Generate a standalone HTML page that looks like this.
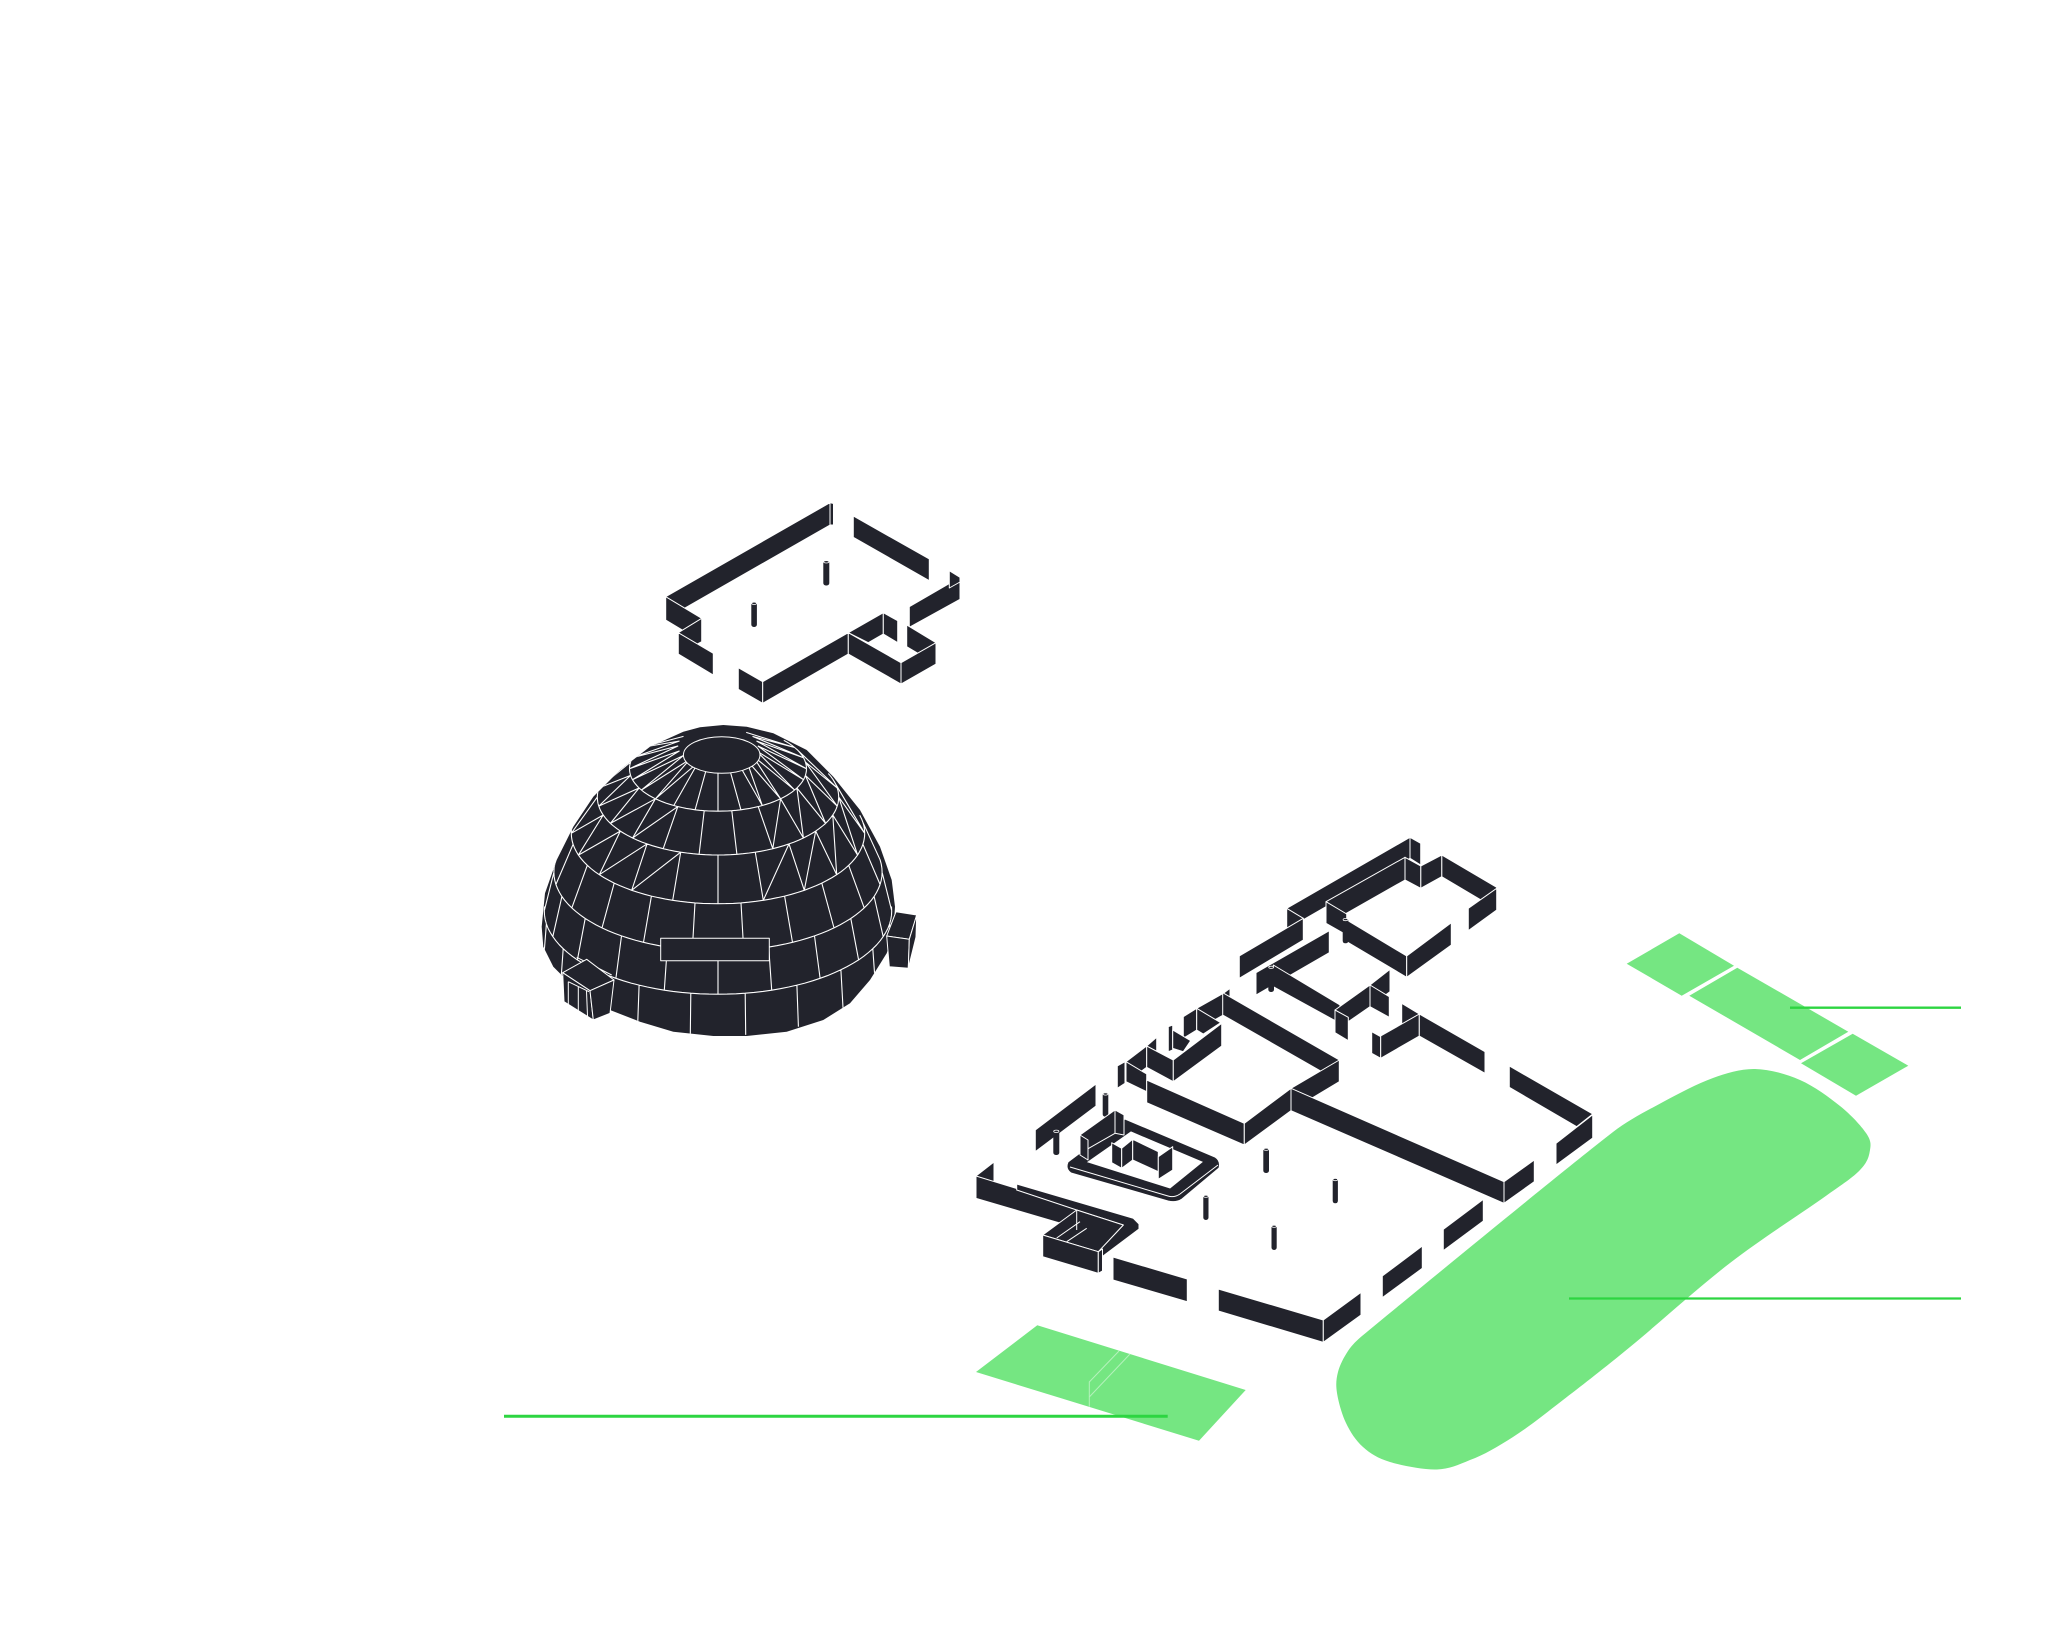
<!DOCTYPE html>
<html>
<head>
<meta charset="utf-8">
<style>
html,body{margin:0;padding:0;background:#fff;overflow:hidden;}
svg{display:block;}
.w{fill:#22232c;stroke:#fff;stroke-width:1;stroke-linejoin:round;}
.d{fill:#22232c;}
.wl{fill:none;stroke:#fff;stroke-width:1;}
.g{fill:#75e682;}
.gl{stroke:#2dd541;fill:none;}
</style>
</head>
<body>
<svg xmlns="http://www.w3.org/2000/svg" width="2048" height="1639" viewBox="0 0 2048 1639">
<rect width="2048" height="1639" fill="#fff"/>

<!-- ================= UPPER BUILDING ================= -->
<g>
<polygon class="w" points="853.3,516 929.3,559 929.3,580.7 853.3,537.3"/>
<polygon class="w" points="665.7,596.7 830,502.7 830,525 665.7,619"/>
<polygon class="w" points="830,502.7 833.5,503.5 833.5,525 830,525"/>
<polygon class="w" points="909.3,606.7 960,577.3 960,599.3 909.3,627.3"/>
<polygon class="w" points="949.3,570.7 960,577.3 960,582 949.3,588"/>
<polygon class="w" points="665.7,596.7 701.7,618.3 701.7,641.7 665.7,620"/>
<polygon class="w" points="678.3,632.7 701.7,618.3 701.7,641.7 678.3,654"/>
<polygon class="w" points="678.3,632.7 713.3,653.3 713.3,675 678.3,654"/>
<polygon class="w" points="848.3,632.7 883.3,612.7 883.3,634 868.3,642.7"/>
<polygon class="w" points="883.3,612.7 897.7,620.7 897.7,642.7 883.3,634"/>
<polygon class="w" points="906.7,625 936,642.7 936,664 906.7,646.7"/>
<polygon class="w" points="738.3,667.7 762.7,681.7 762.7,703.3 738.3,689.3"/>
<polygon class="w" points="762.7,681.7 848.3,632.7 848.3,654 762.7,703.3"/>
<polygon class="w" points="848.3,632.7 901,662.7 901,684 848.3,654"/>
<polygon class="w" points="901,662.7 936,642.7 936,664 901,684"/>
<rect class="d" x="823.3" y="560.5" width="6" height="25" rx="2.5"/>
<ellipse cx="826.3" cy="561.8" rx="2.6" ry="1.2" fill="none" stroke="#fff" stroke-width="0.8"/>
<rect class="d" x="751.3" y="602" width="5.6" height="25" rx="2.5"/>
<ellipse cx="754.1" cy="603.3" rx="2.4" ry="1.2" fill="none" stroke="#fff" stroke-width="0.8"/>
</g>

<!-- ================= DOME ================= -->
<defs>
<clipPath id="domeclip">
<polygon points="700,727.3 723.3,725 746.7,726.7 773.3,733.3 806.7,750 833.3,776.7 860,810 880,846.7 891.7,880 895,906.7 893.3,933.3 886.7,953.3 870,980 850,1003.3 823.3,1020 786.7,1031.7 746.7,1036 713.3,1036 673.3,1031.7 640,1021.7 610,1010 573.3,986.7 553.3,966.7 543.3,946.7 541.7,926.7 545,893.3 556.7,860 573.3,826.7 593.3,796.7 620,770 650,746.7 683.3,731.7"/>
</clipPath>
</defs>
<polygon class="d" points="700,727.3 723.3,725 746.7,726.7 773.3,733.3 806.7,750 833.3,776.7 860,810 880,846.7 891.7,880 895,906.7 893.3,933.3 886.7,953.3 870,980 850,1003.3 823.3,1020 786.7,1031.7 746.7,1036 713.3,1036 673.3,1031.7 640,1021.7 610,1010 573.3,986.7 553.3,966.7 543.3,946.7 541.7,926.7 545,893.3 556.7,860 573.3,826.7 593.3,796.7 620,770 650,746.7 683.3,731.7"/>
<g id="grid" clip-path="url(#domeclip)"></g>
<ellipse cx="721.7" cy="755" rx="38.3" ry="18.3" class="w"/>
<rect x="660.7" y="938.3" width="108.6" height="22.4" class="w"/>
<line x1="576.7" y1="957.3" x2="611.7" y2="975" stroke="#fff" stroke-width="1"/>
<polygon class="w" points="562.7,972.7 586.7,959.3 614,980 590,990.7"/>
<polygon class="w" points="562.7,972.7 590,990.7 593.3,1020 564,1001.7"/>
<polygon class="w" points="590,990.7 614,980 610,1013.3 593.3,1020"/>
<path class="wl" d="M568.3,981.7 L589,991.7 M568.3,981.7 L568.3,1005 M578.3,987 L578.3,1011.5 M586.5,991 L587.5,1016"/>
<polygon class="w" points="886.7,936 896,911.7 916.7,915 909.3,939.3"/>
<polygon class="w" points="886.7,936 909.3,939.3 908.3,968.3 889.3,966.7"/>
<polygon class="w" points="909.3,939.3 916.7,915 916,937 908.3,968.3"/>

<!-- ================= GREEN AREAS ================= -->
<polygon class="g" points="1679.3,933.3 1734,965.7 1681.7,995.7 1626.7,963.7"/>
<polygon class="g" points="1737.3,967.7 1848.3,1031.7 1800,1060 1689.3,995.7"/>
<polygon class="g" points="1852.7,1033.7 1908.3,1065.7 1856,1095.7 1801,1063.3"/>
<path class="g" d="M1755,1069
C1769.5,1069.3 1785.8,1073.8 1800,1080
C1814.2,1086.2 1829,1097.2 1840,1106
C1851,1114.8 1861,1125.7 1866,1133
C1871,1140.3 1871,1143.8 1870,1150
C1869,1156.2 1867.8,1162 1860,1170
C1852.2,1178 1844.7,1182.5 1823,1198
C1801.3,1213.5 1762.2,1238.2 1730,1263
C1697.8,1287.8 1657.8,1324.2 1630,1347
C1602.2,1369.8 1582.5,1385 1563,1400
C1543.5,1415 1528.5,1427.2 1513,1437
C1497.5,1446.8 1484,1455 1470,1460
C1458,1465 1449,1469 1437,1469.5
C1423.7,1470 1402.3,1465.7 1390,1462
C1377.7,1458.3 1370.3,1453.5 1363,1447
C1355.7,1440.5 1350.3,1432 1346,1423
C1341.7,1414 1338.3,1401.5 1337,1393
C1335.7,1384.5 1336.2,1379 1338,1372
C1339.8,1365 1344,1357 1348,1351
C1352,1345 1357.4,1339.8 1362,1336
C1408,1298 1565.6,1168.6 1613,1132
C1628,1120.4 1646.3,1111 1663,1102
C1678.8,1093.5 1697,1083.8 1713,1078
C1726.2,1073.2 1741,1068.7 1755,1069 Z"/>
<polygon class="g" points="1037.3,1325.3 1245.7,1390 1199,1440.7 976,1372"/>
<path d="M1119,1351 L1089.3,1382 L1089.3,1406.7 M1130,1354 L1089.3,1397" fill="none" stroke="#b4f2bb" stroke-width="1"/>

<!-- ================= LOWER BUILDING ================= -->
<g>
<polygon class="w" points="1286.7,908.3 1410,837.3 1410,858.3 1286.7,929.3"/>
<polygon class="w" points="1410,837.3 1420.7,843.3 1420.7,865 1410,858.3"/>
<polygon class="w" points="1441.7,855 1496.7,887.3 1496.7,909.3 1441.7,876.7"/>
<polygon class="w" points="1420.7,866 1441.7,855 1441.7,876.7 1420.7,888.3"/>
<polygon class="w" points="1405,857.3 1420.7,866 1420.7,888.3 1405,880"/>
<polygon class="w" points="1326,901.7 1405,857.3 1405,880 1343.3,915"/>
<polygon class="w" points="1286.7,908.3 1303.3,918.3 1303.3,940 1286.7,929.3"/>
<polygon class="w" points="1239.3,956 1303.3,918.3 1303.3,940 1239.3,978.3"/>
<polygon class="w" points="1326,901.7 1346.7,914 1346.7,935 1326,923.3"/>
<polygon class="w" points="1468.3,908.3 1496.7,888.3 1496.7,910 1468.3,930.7"/>
<polygon class="w" points="1346.7,920 1406.7,956 1406.7,977.3 1346.7,941.7"/>
<polygon class="w" points="1406.7,956 1451.3,922.7 1451.3,945 1406.7,977.3"/>
<rect class="d" x="1342.7" y="918.3" width="5.6" height="25" rx="2.5"/>
<ellipse cx="1345.5" cy="919.6" rx="2.4" ry="1.1" fill="none" stroke="#fff" stroke-width="0.8"/>
<polygon class="w" points="1256,972.7 1329.3,930.7 1329.3,952.7 1256,995"/>
<polygon class="w" points="1273.3,965 1340,1005 1340,1023.3 1273.3,986.7"/>
<rect class="d" x="1268.3" y="966" width="5.7" height="26" rx="2.5"/>
<ellipse cx="1271.2" cy="967.3" rx="2.5" ry="1.1" fill="none" stroke="#fff" stroke-width="0.8"/>
<polygon class="w" points="1335,1010 1370,985 1370,1006.7 1348.3,1021.7"/>
<polygon class="w" points="1370,985 1390,969.3 1390,991.7 1370,1006.7"/>
<polygon class="w" points="1370,985 1389.3,996.7 1389.3,1017.3 1370,1006.7"/>
<polygon class="w" points="1335,1010 1348.3,1017.3 1348.3,1040.7 1335,1032.7"/>
<polygon class="w" points="1401.7,1003.3 1419.3,1014 1419.3,1036 1401.7,1025"/>
<polygon class="w" points="1371.7,1031.7 1380.7,1036.7 1380.7,1058.3 1371.7,1053.3"/>
<polygon class="w" points="1380.7,1036 1419.3,1014 1419.3,1036 1380.7,1058.3"/>
<polygon class="w" points="1419.3,1014 1485,1051.7 1485,1073.3 1419.3,1036"/>
<polygon class="w" points="1509.3,1066 1592.7,1114 1576.7,1126.7 1509.3,1087.3"/>
<polygon class="w" points="1556,1143.3 1592.7,1114.7 1592.7,1138 1556,1165"/>

<polygon class="w" points="1223.3,993.3 1230,988.3 1230,1010 1223.3,1015"/>
<polygon class="w" points="1196.7,1008.3 1223.3,993.3 1223.3,1015 1196.7,1030"/>
<polygon class="w" points="1183.3,1016.7 1196.7,1008.3 1196.7,1030 1183.3,1038.3"/>
<polygon class="w" points="1196.7,1008.3 1220.7,1022.7 1203.3,1034 1196.7,1030"/>
<polygon class="w" points="1168.3,1026.7 1172.7,1025 1172.7,1050 1168.3,1051.7"/>
<polygon class="w" points="1172.7,1030 1190.7,1040.7 1183.3,1051.7 1172.7,1048.3"/>
<polygon class="w" points="1146.7,1046 1156.7,1037.3 1156.7,1058.3 1146.7,1067.3"/>
<polygon class="w" points="1126,1061.7 1146.7,1046 1146.7,1067.3 1126,1082.7"/>
<polygon class="w" points="1117.3,1066 1125,1061.7 1125,1083.3 1117.3,1088.3"/>
<polygon class="w" points="1126,1061.7 1146.7,1074 1146.7,1091.7 1126,1081.7"/>
<polygon class="w" points="1146.7,1046 1173.3,1060 1173.3,1081.7 1146.7,1067.3"/>
<polygon class="w" points="1173.3,1060 1221.7,1023.3 1221.7,1046 1173.3,1081.7"/>

<polygon class="w" points="1222.7,992.7 1339.3,1060 1339.3,1081.7 1222.7,1015"/>
<polygon class="w" points="1146.7,1080 1244.3,1123.3 1244.3,1145 1146.7,1102.7"/>
<polygon class="w" points="1291,1088.3 1339.3,1060 1339.3,1081.7 1291,1110.7"/>
<polygon class="w" points="1244.3,1123.3 1291,1088.3 1291,1110.7 1244.3,1145"/>
<polygon class="w" points="1291,1088.3 1504,1181.7 1504,1203.3 1291,1110.7"/>
<polygon class="w" points="1504,1181.7 1534.3,1160 1534.3,1181.7 1504,1203.3"/>

<polygon class="w" points="1035.3,1130 1096,1084 1096,1106 1035.3,1151.7"/>
<rect class="d" x="1102.7" y="1092.7" width="5.6" height="24" rx="2.5"/>
<ellipse cx="1105.5" cy="1094" rx="2.4" ry="1.1" fill="none" stroke="#fff" stroke-width="0.8"/>
<rect class="d" x="1053.3" y="1130" width="6" height="25" rx="2.5"/>
<ellipse cx="1056.3" cy="1131.3" rx="2.6" ry="1.2" fill="none" stroke="#fff" stroke-width="0.8"/>

<path fill="#22232c" fill-rule="evenodd" stroke="#fff" stroke-width="1" d="M1068,1162 L1080,1153 L1125,1119 L1215,1157 Q1221,1161 1219,1168 L1182,1199 Q1176,1203 1168,1201 L1071,1173 Q1065,1169 1068,1162 Z M1088,1162 L1131,1132 L1202,1162 L1170,1188 Z"/>
<path class="wl" d="M1070,1167 L1168,1196 Q1174,1198 1180,1194 L1218,1165"/>
<polygon class="w" points="1080,1135 1115,1110 1115,1133.3 1080,1153.3"/>
<polygon class="w" points="1080,1135 1088,1140 1088,1160 1080,1155"/>
<polygon class="w" points="1115,1110 1124,1115 1124,1135 1115,1133.3"/>
<polygon class="w" points="1111.7,1142.7 1121.7,1148.3 1121.7,1168.3 1111.7,1162.7"/>
<polygon class="w" points="1121.7,1148.3 1132.7,1139.3 1132.7,1160 1121.7,1168.3"/>
<polygon class="w" points="1132.7,1139.3 1158.3,1151.7 1158.3,1171.7 1132.7,1160"/>
<polygon class="w" points="1158.3,1156.7 1172.7,1146.7 1172.7,1170 1158.3,1179.3"/>

<rect class="d" x="1263.3" y="1148" width="5.7" height="25" rx="2.5"/>
<ellipse cx="1266.2" cy="1149.3" rx="2.5" ry="1.1" fill="none" stroke="#fff" stroke-width="0.8"/>
<rect class="d" x="1332.7" y="1178.3" width="5.2" height="25" rx="2.5"/>
<ellipse cx="1335.3" cy="1179.6" rx="2.3" ry="1.1" fill="none" stroke="#fff" stroke-width="0.8"/>
<rect class="d" x="1203.3" y="1195" width="5.2" height="25" rx="2.5"/>
<ellipse cx="1205.9" cy="1196.3" rx="2.3" ry="1.1" fill="none" stroke="#fff" stroke-width="0.8"/>
<rect class="d" x="1271.5" y="1225" width="5.2" height="25" rx="2.5"/>
<ellipse cx="1274.1" cy="1226.3" rx="2.3" ry="1.1" fill="none" stroke="#fff" stroke-width="0.8"/>

<!-- bottom-left L -->
<polygon class="w" points="976,1176 994,1162 994,1184 976,1198.3"/>
<polygon class="w" points="976,1176 1076.7,1207 1076.7,1228 976,1198.3"/>
<polygon class="w" points="1016.7,1184 1133.3,1218.3 1139,1224 1139,1229 1101.7,1257 1098.3,1251.7 1123.3,1225 1076.7,1210 1016.7,1190"/>
<polygon class="w" points="1042.7,1235 1076.7,1210 1123.3,1225 1098.3,1251.7"/>
<path class="wl" d="M1076.7,1210 L1076.7,1230 M1056.7,1238 L1080,1221.7 M1066.7,1241.7 L1086.7,1228.3"/>
<polygon class="w" points="1042.7,1235 1098.3,1251.7 1098.3,1273.3 1042.7,1256.7"/>
<polygon class="w" points="1098.3,1251.7 1102.5,1249 1102.5,1271 1098.3,1273.3"/>

<polygon class="w" points="1113,1257 1187.3,1279 1187.3,1301.7 1113,1280"/>
<polygon class="w" points="1218.3,1289 1323.3,1320 1323.3,1342.3 1218.3,1311"/>
<polygon class="w" points="1323.3,1320 1361,1292.3 1361,1315 1323.3,1342.3"/>
<polygon class="w" points="1382.3,1276 1422.3,1246 1422.3,1268.3 1382.3,1297.7"/>
<polygon class="w" points="1443.3,1229.3 1483.3,1199.3 1483.3,1221 1443.3,1250.7"/>
</g>

<line class="gl" x1="504" y1="1416.3" x2="1167.7" y2="1416.3" stroke-width="3"/>
<line class="gl" x1="1790" y1="1007.7" x2="1961" y2="1007.7" stroke-width="2.3"/>
<line class="gl" x1="1569" y1="1298.5" x2="1961" y2="1298.5" stroke-width="2.3"/>
</svg>

<script>
(function(){
  var g=document.getElementById('grid');
  var cx=718,cy=951,R=177,H=240,ce=0.877,se=0.48,D=Math.PI/180;
  function P(t,p){t*=D;p*=D;
    var X=R*Math.sin(t)*Math.cos(p),Y=R*Math.sin(t)*Math.sin(p),Z=H*Math.cos(t);
    return [cx+X, cy-Z*ce+Y*se, Y*ce/(R*R)+Z*se/(H*H)];}
  var d='';
  function seg(a,b){ if(a[2]>-1e-5&&b[2]>-1e-5){ d+='M'+a[0].toFixed(1)+','+a[1].toFixed(1)+'L'+b[0].toFixed(1)+','+b[1].toFixed(1);} }
  [30,43,56,68,79].forEach(function(t){ for(var p=0;p<360;p+=3){ seg(P(t,p),P(t,p+3)); } });
  var rows=[[13,30,15,0],[30,43,18,9],[43,56,18,0],[56,68,18,9],[68,79,18,0],[79,90,18,9]];
  rows.forEach(function(r,i){
    for(var p=r[3];p<360+r[3];p+=r[2]){
      seg(P(r[0],p),P(r[1],p));
      var c=Math.abs(Math.cos((p+r[2]/2)*D));
      if(i<3 && c>0.45) seg(P(r[0],p),P(r[1],p+r[2]));
    }
  });
  var path=document.createElementNS('http://www.w3.org/2000/svg','path');
  path.setAttribute('d',d);
  path.setAttribute('fill','none');
  path.setAttribute('stroke','#ffffff');
  path.setAttribute('stroke-width','1.1');
  g.appendChild(path);
})();
</script>
</body>
</html>
